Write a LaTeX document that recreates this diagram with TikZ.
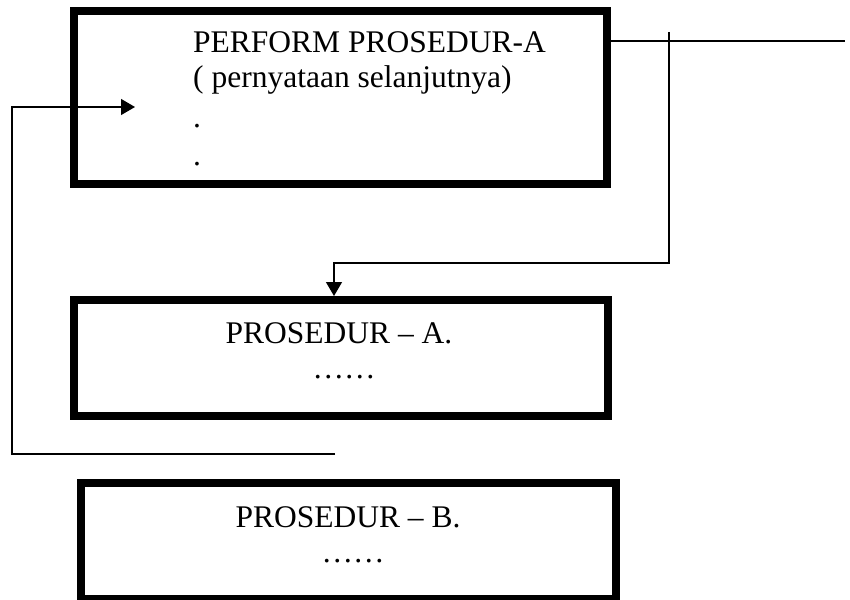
\documentclass[tikz,border=0pt]{standalone}
\usepackage{fontspec}
\setmainfont{Liberation Serif}
\usetikzlibrary{arrows.meta}
\begin{document}
\begin{tikzpicture}[x=1pt,y=-1pt,
  box/.style={draw, rectangle, line width=8pt, inner sep=0pt},
  txt/.style={inner sep=0pt, font=\fontsize{31.5}{36}\selectfont},
  conn/.style={draw, line width=1.3pt},
  tip/.style={-{Triangle[length=14pt,width=16pt]}}]
\useasboundingbox (0,0) rectangle (850,599);
% boxes
\node[box, minimum width=533pt, minimum height=173pt] (A) at (340.5,97.5) {};
\node[box, minimum width=533.5pt, minimum height=116pt] (B) at (340.75,358) {};
\node[box, minimum width=534.5pt, minimum height=116pt] (C) at (348.25,541) {};
% texts
\node[txt, anchor=base west] (a1) at (193,53) {PERFORM PROSEDUR-A};
\node[txt, anchor=base west] (a2) at (193,88) {( pernyataan selanjutnya)};
\node[txt, anchor=base west] (a3) at (193,127) {.};
\node[txt, anchor=base west] (a4) at (193,165) {.};
\node[txt, anchor=base] (b1) at (339,343) {PROSEDUR – A.};
\node[txt, anchor=base] (b2) at (344,378) {……};
\node[txt, anchor=base] (c1) at (348,527) {PROSEDUR – B.};
\node[txt, anchor=base] (c2) at (353,562) {……};
% coordinates
\coordinate (r0) at (0,41);
\coordinate (rend) at (845,41);
\coordinate (vtop) at (669,32);
\coordinate (vbot) at (669,263);
\coordinate (hx) at (334,263);
\coordinate (lend) at (335,454);
\coordinate (lcorner) at (12,454);
\coordinate (ltop) at (12,107);
\coordinate (ltip) at (135,107);
% connectors
\draw[conn] (A.east |- r0) -- (rend);
\draw[conn, tip] (vtop) -- (vbot) -- (hx) -- (B.north -| hx);
\draw[conn, tip] (lend) -- (lcorner) -- (ltop) -- (ltip);
\end{tikzpicture}
\end{document}
